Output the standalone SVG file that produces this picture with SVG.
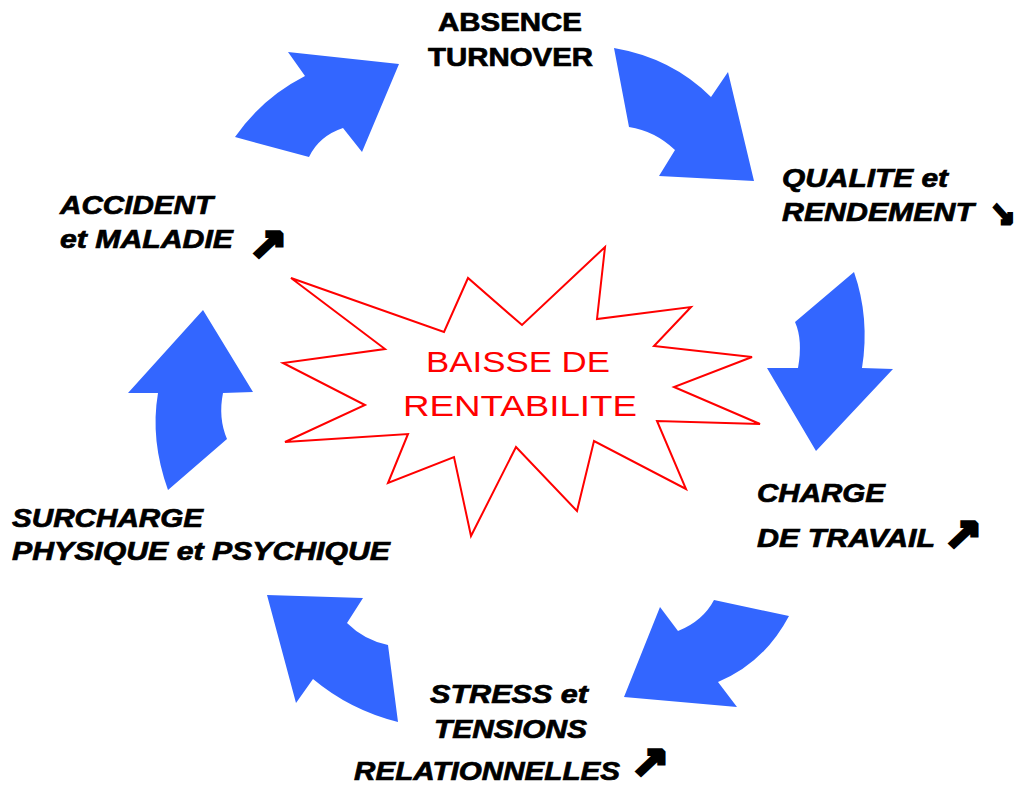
<svg xmlns="http://www.w3.org/2000/svg" width="1018" height="787" viewBox="0 0 1018 787">
<style>
.arr{fill:#3366FF;stroke:none}
.lbl{font-family:"Liberation Sans",Arial,sans-serif;font-weight:bold;font-style:italic;font-size:25.5px;fill:#000;stroke:#000;stroke-width:0.7px}
.up{font-style:normal}
.sym{font-family:"DejaVu Sans",sans-serif;font-weight:bold;font-size:43px;fill:#000;stroke:#000;stroke-width:3.5px;stroke-linejoin:miter}
.sm{font-size:33px;stroke-width:3px}
.ctr{font-family:"Liberation Sans",Arial,sans-serif;font-size:29px;fill:#FF0000}
</style>
<rect width="1018" height="787" fill="#fff"/>
<g id="connectors">
<path class="arr" d="M235,137 Q262,98 305,76 L288,52 L399,64 L362,152 L343,128 Q319,136 309,157 Z"/>
<path class="arr" d="M614,48 Q672,58 711,97 L728,72 L754,181 L659,176 L675,150 Q655,131 629,127 Z"/>
<path class="arr" d="M854,272 Q870,318 862,368 L893,369 L816,451 L767,368 L798,368 Q803,340 795,322 Z"/>
<path class="arr" d="M789,616 Q764,663 718,682 L737,707 L624,697 L660,607 L678,631 Q703,621 714,600 Z"/>
<path class="arr" d="M398,722 Q350,710 313,679 L296,703 L267,595 L363,598 L347,623 Q364,640 388,645 Z"/>
<path class="arr" d="M168,490 Q150,440 158,393 L128,393 L203,310 L253,392 L223,393 Q218,418 227,439 Z"/>
</g>
<g id="center">
<polygon points="291,278 444,332 468,278 522,325 605,247 597,319 691,307 654,346 752,357 674,387 760,424 657,421 686,489 594,441 577,511 516,447 471,536 454,457 388,483 408,434 285,442 365,405 283,363 385,349" fill="#fff" stroke="#FF0000" stroke-width="2" stroke-linejoin="miter"/>
<text class="ctr" x="426" y="372" textLength="184" lengthAdjust="spacingAndGlyphs">BAISSE DE</text>
<text class="ctr" x="403" y="416" textLength="234" lengthAdjust="spacingAndGlyphs">RENTABILITE</text>
</g>
<g id="absence">
<text class="lbl up" x="438" y="31" textLength="144" lengthAdjust="spacingAndGlyphs">ABSENCE</text>
<text class="lbl up" x="428" y="66" textLength="165" lengthAdjust="spacingAndGlyphs">TURNOVER</text>
</g>
<g id="qualite">
<text class="lbl" x="782" y="187" textLength="166" lengthAdjust="spacingAndGlyphs">QUALITE et</text>
<text class="lbl" x="782" y="221" textLength="192" lengthAdjust="spacingAndGlyphs">RENDEMENT</text>
<text class="sym sm" x="990" y="226" textLength="25" lengthAdjust="spacingAndGlyphs">↘</text>
</g>
<g id="charge">
<text class="lbl" x="757" y="502" textLength="128" lengthAdjust="spacingAndGlyphs">CHARGE</text>
<text class="lbl" x="757" y="547" textLength="178" lengthAdjust="spacingAndGlyphs">DE TRAVAIL</text>
<text class="sym" x="944" y="550" textLength="38" lengthAdjust="spacingAndGlyphs">↗</text>
</g>
<g id="stress">
<text class="lbl" x="430" y="703" textLength="158" lengthAdjust="spacingAndGlyphs">STRESS et</text>
<text class="lbl" x="434" y="738" textLength="153" lengthAdjust="spacingAndGlyphs">TENSIONS</text>
<text class="lbl" x="354" y="780" textLength="266" lengthAdjust="spacingAndGlyphs">RELATIONNELLES</text>
<text class="sym" x="631" y="778" textLength="38" lengthAdjust="spacingAndGlyphs">↗</text>
</g>
<g id="surcharge">
<text class="lbl" x="12" y="527" textLength="191" lengthAdjust="spacingAndGlyphs">SURCHARGE</text>
<text class="lbl" x="12" y="560" textLength="378" lengthAdjust="spacingAndGlyphs">PHYSIQUE et PSYCHIQUE</text>
</g>
<g id="accident">
<text class="lbl" x="60" y="214" textLength="153" lengthAdjust="spacingAndGlyphs">ACCIDENT</text>
<text class="lbl" x="60" y="248" textLength="173" lengthAdjust="spacingAndGlyphs">et MALADIE</text>
<text class="sym" x="249" y="260" textLength="38" lengthAdjust="spacingAndGlyphs">↗</text>
</g>
</svg>
